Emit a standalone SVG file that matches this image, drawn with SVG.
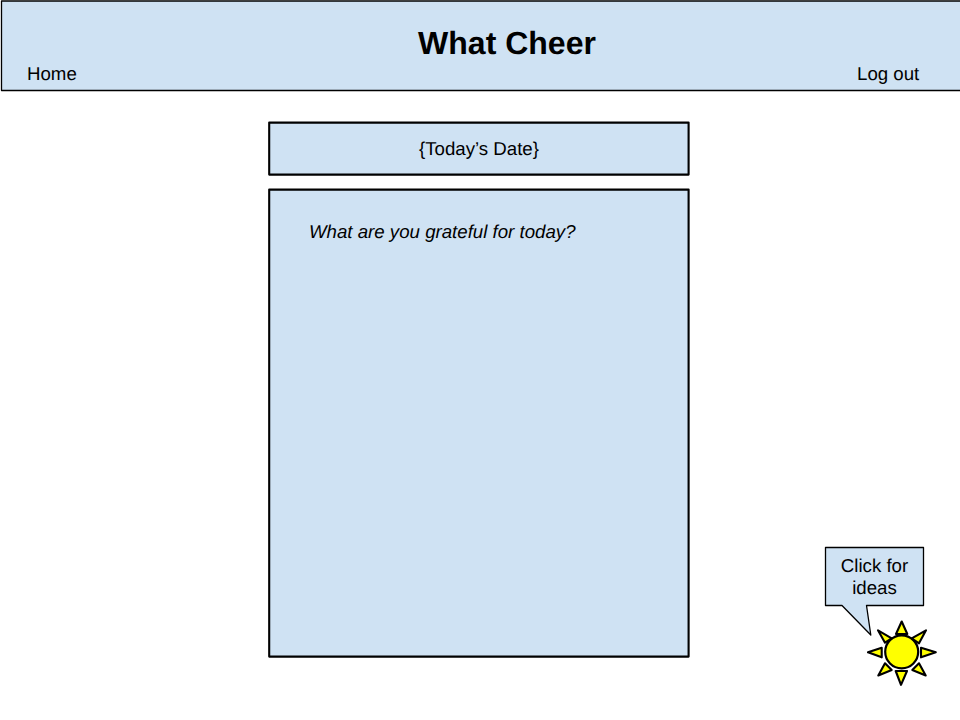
<svg xmlns="http://www.w3.org/2000/svg" width="960" height="720" viewBox="0 0 960 720">
<style>
.box{fill:#cfe2f3;stroke:#000;stroke-linejoin:round}
.t{font-family:"Liberation Sans",Arial,sans-serif;font-size:18.67px;fill:#000;text-rendering:geometricPrecision}
.m{text-anchor:middle}
.ray{fill:#ff0;stroke:#000;stroke-width:2.100;stroke-linejoin:round}
</style>
<rect width="960" height="720" fill="#fff"/>
<g id="header">
<rect class="box" x="1.500" y="1" width="1000" height="89.500" stroke-width="1.300"/>
<text class="t m" x="507" y="54" style="font-size:32px;font-weight:bold">What Cheer</text>
<text class="t" x="27" y="80">Home</text>
<text class="t" x="857" y="80">Log out</text>
</g>
<g id="date">
<rect class="box" x="269.200" y="122.600" width="419.400" height="52" stroke-width="2.100"/>
<text class="t m" x="479" y="155">{Today’s Date}</text>
</g>
<g id="entry">
<rect class="box" x="269.200" y="189.600" width="419.400" height="467" stroke-width="2.100"/>
<text class="t" x="309" y="238" font-style="italic">What are you grateful for today?</text>
</g>
<g id="callout">
<path class="box" stroke-width="1.300" d="M825.500 547.500H923.500V605.500H866.500L870.800 635L842 605.500H825.500Z"/>
<text class="t m" x="874.500" y="572">Click for</text>
<text class="t m" x="874.500" y="594">ideas</text>
</g>
<g id="sun">
<circle cx="901.700" cy="651.800" r="16.500" fill="#ff0" stroke="#000" stroke-width="2.200"/>
<path class="ray" d="M896 634L901.700 621.500L907.300 634Z"/>
<path class="ray" d="M921 647.800L935.800 652.300L921 657.300Z"/>
<path class="ray" d="M881.700 647.800L868 652.300L881.700 657.300Z"/>
<path class="ray" d="M895.700 671L901 684.800L907 671Z"/>
<path class="ray" d="M911.700 638.300L926 630.300L919 643.300Z"/>
<path class="ray" d="M891.700 638.300L878 630.300L885 642.700Z"/>
<path class="ray" d="M919 663.300L925.700 675.500L912.300 670Z"/>
<path class="ray" d="M885 663.300L878.300 675.500L891.700 670Z"/>
</g>
</svg>
